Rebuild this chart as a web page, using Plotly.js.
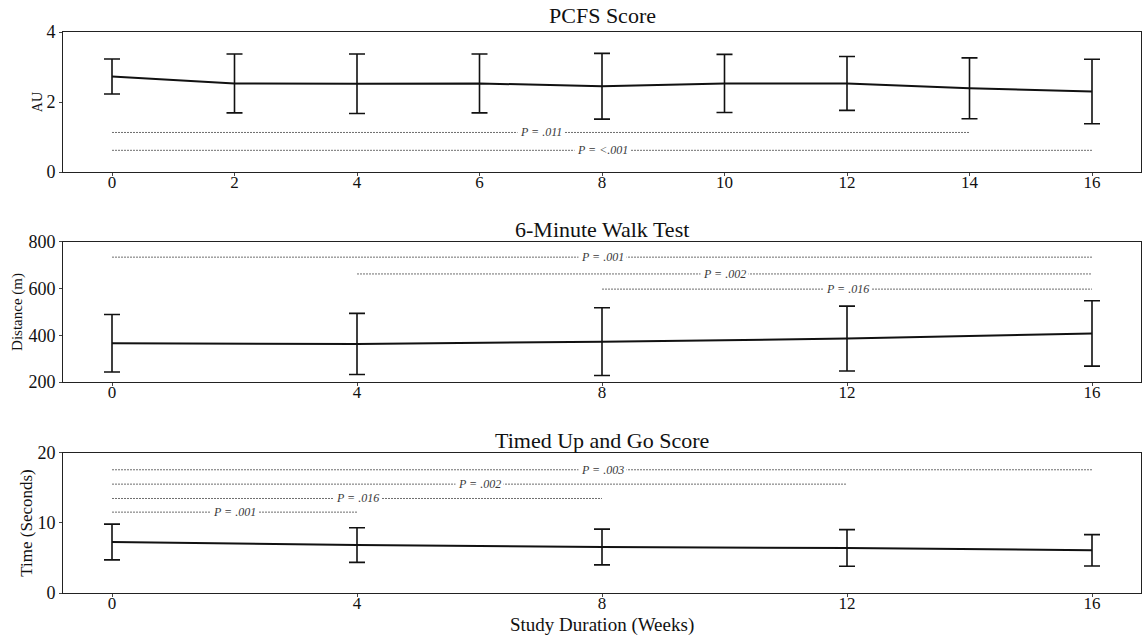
<!DOCTYPE html>
<html>
<head>
<meta charset="utf-8">
<script src="https://cdn.plot.ly/plotly-3.0.1.min.js"></script>
<style>
  html, body { margin: 0; padding: 0; background: #ffffff; }
  #chart { width: 1144px; height: 643px; }
</style>
</head>
<body>
<div id="chart"></div>
<script>
// PCFS score (AU), every two weeks
const pcfsWeeks = [0, 2, 4, 6, 8, 10, 12, 14, 16];
const pcfsMean  = [2.73, 2.53, 2.52, 2.53, 2.45, 2.53, 2.53, 2.39, 2.30];
const pcfsSD    = [0.50, 0.84, 0.85, 0.84, 0.94, 0.83, 0.77, 0.87, 0.92];

// 6-minute walk test distance (m)
const walkWeeks = [0, 4, 8, 12, 16];
const walkMean  = [366, 363, 373, 386, 408];
const walkSD    = [123, 131, 145, 139, 140];

// Timed Up and Go (seconds)
const tugWeeks = [0, 4, 8, 12, 16];
const tugMean  = [7.28, 6.85, 6.57, 6.43, 6.10];
const tugSD    = [2.55, 2.47, 2.55, 2.62, 2.24];

// Pairwise comparisons: start week, end week, bracket height, label
const pcfsPFrom  = [0, 0];
const pcfsPTo    = [14, 16];
const pcfsPLevel = [1.13, 0.62];
const pcfsPText  = ['P = .011', 'P = <.001'];

const walkPFrom  = [0, 4, 8];
const walkPTo    = [16, 16, 16];
const walkPLevel = [735, 663, 598];
const walkPText  = ['P = .001', 'P = .002', 'P = .016'];

const tugPFrom  = [0, 0, 0, 0];
const tugPTo    = [16, 12, 8, 4];
const tugPLevel = [17.6, 15.55, 13.5, 11.55];
const tugPText  = ['P = .003', 'P = .002', 'P = .016', 'P = .001'];

// Tick labels
const pcfsTicksX = [0, 2, 4, 6, 8, 10, 12, 14, 16];
const fourWeekTicksX = [0, 4, 8, 12, 16];
const pcfsTicksY = [0, 2, 4];
const walkTicksY = [200, 400, 600, 800];
const tugTicksY  = [0, 10, 20];

const serif = 'Liberation Serif, Times New Roman, serif';
const traces = [];
const annotations = [];

function panel(weeks, mean, sd, xa, ya) {
  traces.push({
    x: weeks, y: mean, xaxis: xa, yaxis: ya,
    type: 'scatter', mode: 'lines',
    line: { color: '#111111', width: 2 },
    error_y: { type: 'data', array: sd, visible: true,
               color: '#111111', thickness: 1.6, width: 8 },
    hoverinfo: 'skip', showlegend: false
  });
}

function comparisons(from, to, level, text, xa, ya) {
  for (let i = 0; i < from.length; i++) {
    traces.push({
      x: [from[i], to[i]], y: [level[i], level[i]], xaxis: xa, yaxis: ya,
      type: 'scatter', mode: 'lines',
      line: { color: '#5e5e5e', width: 0.9, dash: '2px,1px' },
      hoverinfo: 'skip', showlegend: false
    });
    annotations.push({
      x: (from[i] + to[i]) / 2, y: level[i], xref: xa, yref: ya,
      text: '<i>' + text[i] + '</i>', showarrow: false,
      font: { family: serif, size: 12, color: '#3a3a3a' },
      bgcolor: '#ffffff', borderpad: 2,
      xanchor: 'center', yanchor: 'middle'
    });
  }
}

panel(pcfsWeeks, pcfsMean, pcfsSD, 'x', 'y');
panel(walkWeeks, walkMean, walkSD, 'x2', 'y2');
panel(tugWeeks, tugMean, tugSD, 'x3', 'y3');
comparisons(pcfsPFrom, pcfsPTo, pcfsPLevel, pcfsPText, 'x', 'y');
comparisons(walkPFrom, walkPTo, walkPLevel, walkPText, 'x2', 'y2');
comparisons(tugPFrom, tugPTo, tugPLevel, tugPText, 'x3', 'y3');

const domTop = [0.7504, 1.0];
const domMid = [0.3761, 0.6257];
const domBot = [0.0, 0.2496];

function titleAnn(text, yTop, shift) {
  return {
    text: text, x: 0.5, y: yTop, xref: 'paper', yref: 'paper',
    xanchor: 'center', yanchor: 'bottom', showarrow: false, yshift: shift,
    font: { family: serif, size: 22, color: '#111111' }
  };
}
annotations.push(titleAnn('PCFS Score', domTop[1], 2));
annotations.push(titleAnn('6-Minute Walk Test', domMid[1], -2));
annotations.push(titleAnn('Timed Up and Go Score', domBot[1], -2));

// shared x-axis title under the bottom panel
annotations.push({
  text: 'Study Duration (Weeks)', x: 0.5, y: 0, xref: 'paper', yref: 'paper',
  xanchor: 'center', yanchor: 'middle', showarrow: false, yshift: -32,
  font: { family: serif, size: 19, color: '#111111' }
});

const axisBase = {
  showline: true, mirror: true, linecolor: '#222222', linewidth: 1,
  ticks: 'outside', ticklen: 3, tickwidth: 1, tickcolor: '#444444',
  showgrid: false, zeroline: false,
  tickfont: { family: serif, size: 18, color: '#111111' }
};

function xAxis(anchor, tickvals) {
  return Object.assign({}, axisBase, {
    anchor: anchor, range: [-0.8, 16.8], tickmode: 'array',
    tickvals: tickvals, ticktext: tickvals.map(String),
    ticklabelstandoff: -8,
    tickfont: { family: serif, size: 17, color: '#111111' }
  });
}
function yAxis(anchor, domain, range, tickvals, title, size, standoff) {
  return Object.assign({}, axisBase, {
    anchor: anchor, domain: domain, range: range, tickmode: 'array',
    tickvals: tickvals, ticktext: tickvals.map(String),
    title: { text: title, standoff: standoff,
             font: { family: serif, size: size, color: '#111111' } }
  });
}

const layout = {
  width: 1144, height: 643,
  margin: { l: 63, r: 3, t: 32, b: 50 },
  paper_bgcolor: '#ffffff', plot_bgcolor: '#ffffff',
  font: { family: serif, color: '#111111' },
  showlegend: false,
  xaxis:  xAxis('y', pcfsTicksX),
  xaxis2: xAxis('y2', fourWeekTicksX),
  xaxis3: xAxis('y3', fourWeekTicksX),
  yaxis:  yAxis('x', domTop, [0, 4], pcfsTicksY, 'AU', 14, 0),
  yaxis2: yAxis('x2', domMid, [200, 800], walkTicksY, 'Distance (m)', 15, 2),
  yaxis3: yAxis('x3', domBot, [0, 20], tugTicksY, 'Time (Seconds)', 17, 0),
  annotations: annotations
};

Plotly.newPlot('chart', traces, layout, { staticPlot: true, displayModeBar: false });
</script>
</body>
</html>
